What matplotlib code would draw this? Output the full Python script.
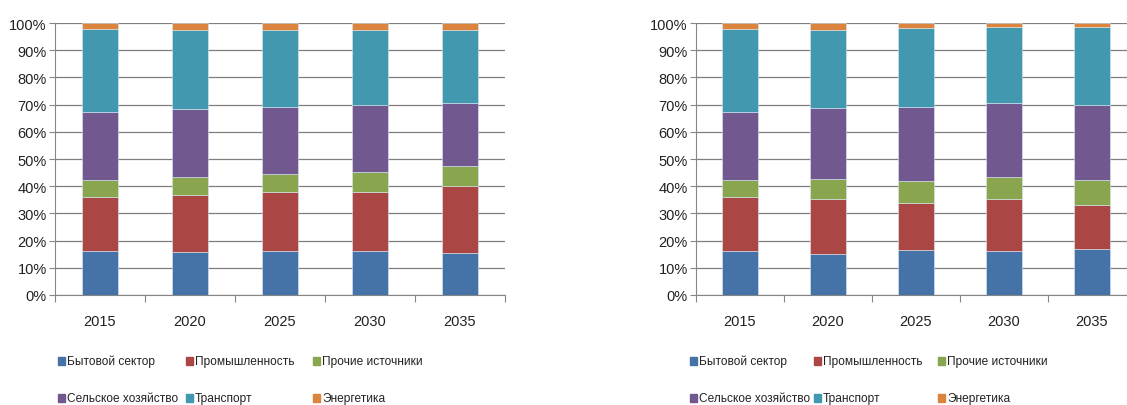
import matplotlib.pyplot as plt
import numpy as np
from matplotlib.patches import Rectangle
from matplotlib.ticker import PercentFormatter

plt.rcParams['font.family'] = ['Liberation Sans', 'DejaVu Sans']

years = ['2015', '2020', '2025', '2030', '2035']
sectors = ['Бытовой сектор', 'Промышленность', 'Прочие источники',
           'Сельское хозяйство', 'Транспорт', 'Энергетика']
colors = ['#4572A7', '#AA4643', '#89A54E', '#71588F', '#4198AF', '#DB843D']

# shares in %, one list per sector, one value per year
left_vals = [
    [16.3, 15.8, 16.3, 16.3, 15.6],
    [19.6, 20.8, 21.4, 21.4, 24.5],
    [6.3, 6.9, 6.8, 7.5, 7.2],
    [25.1, 24.9, 24.6, 24.5, 23.4],
    [30.4, 28.9, 28.4, 27.8, 26.8],
    [2.3, 2.7, 2.5, 2.5, 2.5],
]
right_vals = [
    [16.3, 15.1, 16.5, 16.3, 17.0],
    [19.6, 20.2, 17.3, 19.0, 16.2],
    [6.3, 7.2, 8.0, 8.2, 9.0],
    [25.1, 26.3, 27.3, 27.0, 27.8],
    [30.4, 28.7, 28.9, 28.1, 28.6],
    [2.3, 2.5, 2.0, 1.4, 1.4],
]

W, H = 1127, 406
fig = plt.figure(figsize=(W / 100, H / 100), dpi=100)


def draw(rect, vals):
    ax = fig.add_axes(rect)
    vals = np.array(vals, dtype=float)
    vals = vals / vals.sum(axis=0) * 100
    x = np.arange(len(years))
    bottom = np.zeros(len(years))
    for v, c in zip(vals, colors):
        ax.bar(x, v, 0.4, bottom=bottom, color=c, edgecolor='#dbe8f3', linewidth=0.4, zorder=3)
        bottom += v
    ax.set_xlim(-0.5, len(years) - 0.5)
    ax.set_ylim(0, 100)
    ax.set_yticks(np.arange(0, 101, 10))
    ax.yaxis.set_major_formatter(PercentFormatter(decimals=0))
    ax.set_xticks(x)
    ax.set_xticklabels(years)
    ax.set_xticks(np.arange(-0.5, len(years)), minor=True)
    ax.tick_params(axis='x', which='major', length=0, pad=14, labelsize=10.5, colors='#222222')
    ax.tick_params(axis='x', which='minor', length=5, width=0.8, color='#868686', direction='out')
    ax.tick_params(axis='y', length=4, width=0.8, labelsize=10.5, pad=2, colors='#222222')
    ax.tick_params(axis='y', color='#868686')
    ax.grid(axis='y', color='#7f7f7f', linewidth=0.9, zorder=0)
    for s in ['top', 'right']:
        ax.spines[s].set_visible(False)
    ax.spines['left'].set_color('#868686')
    ax.spines['bottom'].set_color('#868686')
    return ax


draw([55 / W, 110 / H, 450 / W, 272 / H], left_vals)
draw([696 / W, 110 / H, 440 / W, 272 / H], right_vals)


def legend(x0, col_w):
    for i, (lab, c) in enumerate(zip(sectors, colors)):
        row, col = divmod(i, 3)
        x = x0 + col * col_w
        y = 362 + row * 37
        fig.patches.append(Rectangle((x / W, 1 - (y + 4) / H), 7 / W, 8 / H,
                                     transform=fig.transFigure, color=c, figure=fig))
        fig.text((x + 9) / W, 1 - y / H, lab, fontsize=8.6, va='center', color='#222222')


legend(58, 127.5)
legend(690, 124)

fig.savefig('out.png', dpi=100)
